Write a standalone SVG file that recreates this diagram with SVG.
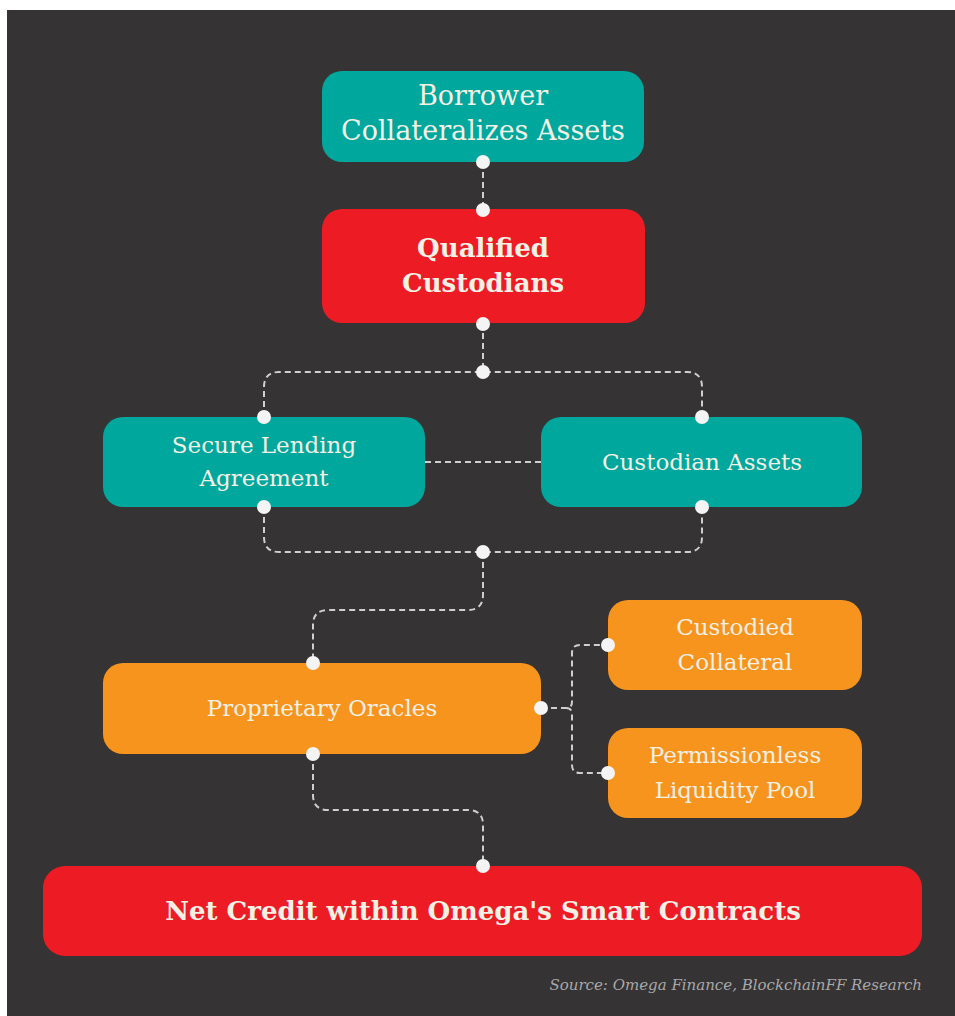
<svg xmlns="http://www.w3.org/2000/svg" width="955" height="1016" viewBox="0 0 955 1016">
<style>
.bg{fill:#353334}
.teal{fill:#00A79D}
.red{fill:#ED1C24}
.orange{fill:#F7941D}
.t{font-family:"DejaVu Serif","Liberation Serif",serif;fill:#F3F0E4;text-anchor:middle}
.n{font-size:27px}
.b{font-size:26px;font-weight:bold}
.s{font-size:23px}
.conn{fill:none;stroke:#CFCFCF;stroke-width:2;stroke-dasharray:6 4}
.dot{fill:#F4F4F4}
.src{font-family:"DejaVu Serif","Liberation Serif",serif;font-style:italic;font-size:15px;fill:#A8A8A8;text-anchor:end}
</style>
<rect x="0" y="0" width="955" height="1016" fill="#ffffff"/>
<rect class="bg" x="7" y="10" width="948" height="1006"/>
<g id="connectors">
<path class="conn" d="M483,162 V210"/>
<path class="conn" d="M483,323 V372"/>
<path class="conn" d="M264,417 V387 Q264,372 279,372 H687 Q702,372 702,387 V417"/>
<path class="conn" d="M425,462 H541"/>
<path class="conn" d="M264,507 V537 Q264,552 279,552 H687 Q702,552 702,537 V507"/>
<path class="conn" d="M483,552 V595 Q483,610 468,610 H328 Q313,610 313,625 V663"/>
<path class="conn" d="M541,708 H566 Q572,708 572,702 V653 Q572,645 580,645 H608"/>
<path class="conn" d="M566,708 Q572,708 572,714 V765 Q572,773 580,773 H608"/>
<path class="conn" d="M313,754 V795 Q313,810 328,810 H468 Q483,810 483,825 V866"/>
</g>
<g id="borrower">
<rect class="teal" x="322" y="71" width="322" height="91" rx="20"/>
<text class="t n" x="483" y="105">Borrower</text>
<text class="t n" x="483" y="140">Collateralizes Assets</text>
</g>
<g id="qualified-custodians">
<rect class="red" x="322" y="209" width="323" height="114" rx="20"/>
<text class="t b" x="483" y="257">Qualified</text>
<text class="t b" x="483" y="292">Custodians</text>
</g>
<g id="secure-lending">
<rect class="teal" x="103" y="417" width="322" height="90" rx="20"/>
<text class="t s" x="264" y="453">Secure Lending</text>
<text class="t s" x="264" y="486">Agreement</text>
</g>
<g id="custodian-assets">
<rect class="teal" x="541" y="417" width="321" height="90" rx="20"/>
<text class="t s" x="702" y="470">Custodian Assets</text>
</g>
<g id="proprietary-oracles">
<rect class="orange" x="103" y="663" width="438" height="91" rx="20"/>
<text class="t s" x="322" y="716">Proprietary Oracles</text>
</g>
<g id="custodied-collateral">
<rect class="orange" x="608" y="600" width="254" height="90" rx="20"/>
<text class="t s" x="735" y="635">Custodied</text>
<text class="t s" x="735" y="670">Collateral</text>
</g>
<g id="liquidity-pool">
<rect class="orange" x="608" y="728" width="254" height="90" rx="20"/>
<text class="t s" x="735" y="763">Permissionless</text>
<text class="t s" x="735" y="798">Liquidity Pool</text>
</g>
<g id="net-credit">
<rect class="red" x="43" y="866" width="879" height="90" rx="22"/>
<text class="t b" x="483" y="920">Net Credit within Omega's Smart Contracts</text>
</g>
<g id="dots">
<circle class="dot" cx="483" cy="162" r="7"/>
<circle class="dot" cx="483" cy="210" r="7"/>
<circle class="dot" cx="483" cy="324" r="7"/>
<circle class="dot" cx="483" cy="372" r="7"/>
<circle class="dot" cx="264" cy="417" r="7"/>
<circle class="dot" cx="702" cy="417" r="7"/>
<circle class="dot" cx="264" cy="507" r="7"/>
<circle class="dot" cx="702" cy="507" r="7"/>
<circle class="dot" cx="483" cy="552" r="7"/>
<circle class="dot" cx="313" cy="663" r="7"/>
<circle class="dot" cx="541" cy="708" r="7"/>
<circle class="dot" cx="608" cy="645" r="7"/>
<circle class="dot" cx="608" cy="773" r="7"/>
<circle class="dot" cx="313" cy="754" r="7"/>
<circle class="dot" cx="483" cy="866" r="7"/>
</g>
<text class="src" x="922" y="990">Source: Omega Finance, BlockchainFF Research</text>
</svg>
